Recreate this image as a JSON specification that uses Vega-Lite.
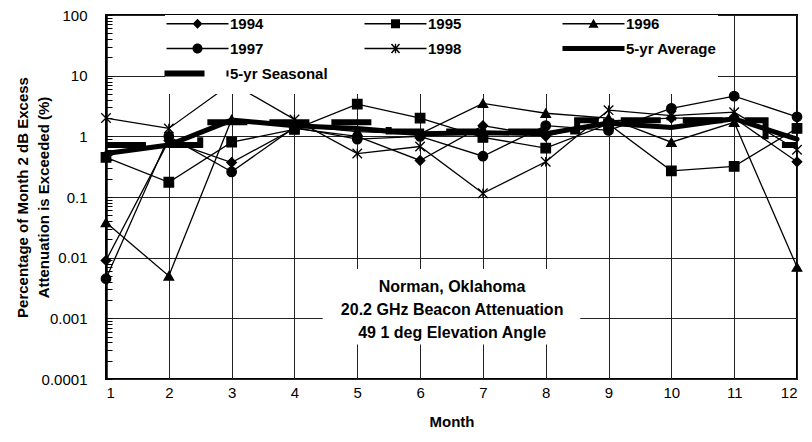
{
  "$schema": "https://vega.github.io/schema/vega-lite/v6.json",
  "width": 691,
  "height": 364,
  "autosize": "none",
  "padding": {"left": 106, "top": 15, "right": 15, "bottom": 63},
  "background": "white",
  "config": {
    "view": {"stroke": "black", "strokeWidth": 2},
    "font": "Liberation Sans",
    "axis": {"labelFont": "Liberation Sans", "titleFont": "Liberation Sans", "labelColor": "black", "titleColor": "black"}
  },
  "resolve": {"scale": {"shape": "independent"}, "legend": {"shape": "independent"}},
  "datasets": {
    "notes": [{"note": "Norman, Oklahoma\n20.2 GHz Beacon Attenuation\n49 1 deg Elevation Angle"}]
  },
  "data": {"values": [
    {"series": "1994", "month": 1, "value": 0.009},
    {"series": "1994", "month": 2, "value": 0.85},
    {"series": "1994", "month": 3, "value": 0.37},
    {"series": "1994", "month": 4, "value": 1.35},
    {"series": "1994", "month": 5, "value": 1.0},
    {"series": "1994", "month": 6, "value": 0.4},
    {"series": "1994", "month": 7, "value": 1.5},
    {"series": "1994", "month": 8, "value": 1.0},
    {"series": "1994", "month": 9, "value": 1.8},
    {"series": "1994", "month": 10, "value": 2.0},
    {"series": "1994", "month": 11, "value": 2.0},
    {"series": "1994", "month": 12, "value": 0.38},
    {"series": "1995", "month": 1, "value": 0.45},
    {"series": "1995", "month": 2, "value": 0.175},
    {"series": "1995", "month": 3, "value": 0.8},
    {"series": "1995", "month": 4, "value": 1.3},
    {"series": "1995", "month": 5, "value": 3.4},
    {"series": "1995", "month": 6, "value": 2.0},
    {"series": "1995", "month": 7, "value": 0.96},
    {"series": "1995", "month": 8, "value": 0.64},
    {"series": "1995", "month": 9, "value": 1.6},
    {"series": "1995", "month": 10, "value": 0.27},
    {"series": "1995", "month": 11, "value": 0.32},
    {"series": "1995", "month": 12, "value": 1.35},
    {"series": "1996", "month": 1, "value": 0.038},
    {"series": "1996", "month": 2, "value": 0.005},
    {"series": "1996", "month": 3, "value": 1.9},
    {"series": "1996", "month": 4, "value": 1.5},
    {"series": "1996", "month": 5, "value": 1.2},
    {"series": "1996", "month": 6, "value": 1.1},
    {"series": "1996", "month": 7, "value": 3.5},
    {"series": "1996", "month": 8, "value": 2.4},
    {"series": "1996", "month": 9, "value": 2.0},
    {"series": "1996", "month": 10, "value": 0.8},
    {"series": "1996", "month": 11, "value": 1.7},
    {"series": "1996", "month": 12, "value": 0.007},
    {"series": "1997", "month": 1, "value": 0.0045},
    {"series": "1997", "month": 2, "value": 1.0},
    {"series": "1997", "month": 3, "value": 0.26},
    {"series": "1997", "month": 4, "value": 1.4},
    {"series": "1997", "month": 5, "value": 0.9},
    {"series": "1997", "month": 6, "value": 1.0},
    {"series": "1997", "month": 7, "value": 0.47},
    {"series": "1997", "month": 8, "value": 1.5},
    {"series": "1997", "month": 9, "value": 1.25},
    {"series": "1997", "month": 10, "value": 2.9},
    {"series": "1997", "month": 11, "value": 4.6},
    {"series": "1997", "month": 12, "value": 2.1},
    {"series": "1998", "month": 1, "value": 2.0},
    {"series": "1998", "month": 2, "value": 1.35},
    {"series": "1998", "month": 3, "value": 7.5},
    {"series": "1998", "month": 4, "value": 1.9},
    {"series": "1998", "month": 5, "value": 0.52},
    {"series": "1998", "month": 6, "value": 0.68},
    {"series": "1998", "month": 7, "value": 0.115},
    {"series": "1998", "month": 8, "value": 0.38},
    {"series": "1998", "month": 9, "value": 2.7},
    {"series": "1998", "month": 10, "value": 2.2},
    {"series": "1998", "month": 11, "value": 2.5},
    {"series": "1998", "month": 12, "value": 0.6},
    {"series": "5-yr Average", "month": 1, "value": 0.52},
    {"series": "5-yr Average", "month": 2, "value": 0.72},
    {"series": "5-yr Average", "month": 3, "value": 1.85},
    {"series": "5-yr Average", "month": 4, "value": 1.5},
    {"series": "5-yr Average", "month": 5, "value": 1.35},
    {"series": "5-yr Average", "month": 6, "value": 1.1},
    {"series": "5-yr Average", "month": 7, "value": 1.15},
    {"series": "5-yr Average", "month": 8, "value": 1.1},
    {"series": "5-yr Average", "month": 9, "value": 1.65},
    {"series": "5-yr Average", "month": 10, "value": 1.4},
    {"series": "5-yr Average", "month": 11, "value": 1.95},
    {"series": "5-yr Average", "month": 12, "value": 0.9},
    {"series": "5-yr Seasonal", "month": 1, "value": 0.72},
    {"series": "5-yr Seasonal", "month": 2, "value": 0.72},
    {"series": "5-yr Seasonal", "month": 3, "value": 1.7},
    {"series": "5-yr Seasonal", "month": 4, "value": 1.7},
    {"series": "5-yr Seasonal", "month": 5, "value": 1.7},
    {"series": "5-yr Seasonal", "month": 6, "value": 1.2},
    {"series": "5-yr Seasonal", "month": 7, "value": 1.2},
    {"series": "5-yr Seasonal", "month": 8, "value": 1.2},
    {"series": "5-yr Seasonal", "month": 9, "value": 1.85},
    {"series": "5-yr Seasonal", "month": 10, "value": 1.85},
    {"series": "5-yr Seasonal", "month": 11, "value": 1.85},
    {"series": "5-yr Seasonal", "month": 12, "value": 0.72}
  ]},
  "layer": [
    {
      "transform": [{"filter": "indexof(['1994','1995','1996','1997','1998'], datum.series) >= 0"}],
      "mark": {"type": "line", "stroke": "black", "strokeWidth": 1.3},
      "encoding": {
        "x": {
          "field": "month", "type": "quantitative",
          "scale": {"domain": [1, 12], "nice": false, "zero": false},
          "axis": {
            "values": [1, 2, 3, 4, 5, 6, 7, 8, 9, 10, 11, 12],
            "format": "d",
            "grid": true, "gridColor": "#222", "gridWidth": 1,
            "ticks": false, "domain": false,
            "labelFontSize": 15, "labelPadding": 6,
            "title": "Month", "titleFontSize": 15, "titleFontWeight": "bold", "titlePadding": 14
          }
        },
        "y": {
          "field": "value", "type": "quantitative",
          "scale": {"type": "log", "domain": [0.0001, 100], "nice": false},
          "axis": {
            "values": [0.0001, 0.0002, 0.0003, 0.0004, 0.0005, 0.0006, 0.0007, 0.0008, 0.0009,
                       0.001, 0.002, 0.003, 0.004, 0.005, 0.006, 0.007, 0.008, 0.009,
                       0.01, 0.02, 0.03, 0.04, 0.05, 0.06, 0.07, 0.08, 0.09,
                       0.1, 0.2, 0.3, 0.4, 0.5, 0.6, 0.7, 0.8, 0.9,
                       1, 2, 3, 4, 5, 6, 7, 8, 9,
                       10, 20, 30, 40, 50, 60, 70, 80, 90, 100],
            "format": "~g",
            "labelExpr": "indexof(['0.0001','0.001','0.01','0.1','1','10','100'], datum.label) >= 0 ? datum.label : ''",
            "grid": true, "gridColor": "#222", "gridWidth": 1,
            "gridOpacity": {"condition": {"test": "indexof([0.0001,0.001,0.01,0.1,1,10,100], datum.value) >= 0", "value": 1}, "value": 0},
            "ticks": true, "tickSize": -6, "tickColor": "black", "tickWidth": 1,
            "domain": true, "domainColor": "black", "domainWidth": 2.5,
            "labelFontSize": 15, "labelPadding": 25,
            "title": ["Percentage of Month 2 dB Excess", "Attenuation is Exceeded (%)"],
            "titleFontSize": 15, "titleFontWeight": "bold",
            "titleX": -84, "titleY": 182, "titleAlign": "center", "titleBaseline": "middle", "titleLineHeight": 21
          }
        },
        "detail": {"field": "series"}
      }
    },
    {
      "data": {"name": "notes"},
      "mark": {"type": "rect", "fill": "white"},
      "encoding": {
        "x": {"datum": 4.45, "type": "quantitative"},
        "x2": {"datum": 8.55},
        "y": {"datum": 0.0065, "type": "quantitative"},
        "y2": {"datum": 0.00037}
      }
    },
    {
      "transform": [{"filter": "datum.series === '5-yr Average'"}],
      "mark": {"type": "line", "stroke": "black", "strokeWidth": 5, "strokeCap": "round"},
      "encoding": {
        "x": {"field": "month", "type": "quantitative"},
        "y": {"field": "value", "type": "quantitative"}
      }
    },
    {
      "transform": [{"filter": "datum.series === '5-yr Seasonal'"}],
      "mark": {"type": "line", "stroke": "black", "strokeWidth": 6, "interpolate": "step", "strokeDash": [40, 22]},
      "encoding": {
        "x": {"field": "month", "type": "quantitative"},
        "y": {"field": "value", "type": "quantitative"}
      }
    },
    {
      "transform": [{"filter": "indexof(['1994','1995','1996','1997','1998'], datum.series) >= 0"}],
      "mark": {"type": "point", "filled": true, "fill": "black", "stroke": "black", "strokeWidth": 1.3, "size": 90, "opacity": 1},
      "encoding": {
        "x": {"field": "month", "type": "quantitative"},
        "y": {"field": "value", "type": "quantitative"},
        "shape": {
          "field": "series", "type": "nominal",
          "scale": {
            "domain": ["1994", "1995", "1996", "1997", "1998"],
            "range": ["diamond", "square", "triangle-up", "circle", "M-1,-1L1,1M-1,1L1,-1M0,-1V1"]
          },
          "legend": null
        }
      }
    },
    {
      "mark": {"type": "point", "filled": true, "fill": "black", "size": 100, "opacity": 0},
      "encoding": {
        "x": {"field": "month", "type": "quantitative"},
        "y": {"field": "value", "type": "quantitative"},
        "shape": {
          "field": "series", "type": "nominal",
          "scale": {
            "domain": ["1994", "1995", "1996", "1997", "1998", "5-yr Average", "5-yr Seasonal"],
            "range": [
              "M-6.2,-0.13H6.2V0.13H-6.2ZM0,-1L1,0L0,1L-1,0Z",
              "M-6.2,-0.13H6.2V0.13H-6.2ZM-0.9,-0.9H0.9V0.9H-0.9Z",
              "M-6.2,-0.13H6.2V0.13H-6.2ZM0,-1L1,0.8H-1Z",
              "M-6.2,-0.13H6.2V0.13H-6.2ZM-1,0A1,1,0,1,1,1,0A1,1,0,1,1,-1,0Z",
              "M-6.2,-0.13H6.2V0.13H-6.2ZM-0.688,-1L0.912,0.8L0.688,1L-0.912,-0.8ZM0.688,-1L0.912,-0.8L-0.688,1L-0.912,0.8ZM-0.13,-0.95H0.13V0.95H-0.13Z",
              "M-6.2,-0.5H6.2V0.5H-6.2Z",
              "M-6.6,-0.6H1.4V0.6H-6.6ZM5.8,-0.6H6.2V0.6H5.8Z"
            ]
          },
          "legend": {
            "orient": "none", "legendX": 59, "legendY": 0, "direction": "horizontal",
            "columns": 3, "title": " ", "titleOrient": "bottom", "titleFontSize": 6, "titlePadding": 5,
            "fillColor": "white", "padding": 1,
            "gridAlign": "all", "columnPadding": 33, "rowPadding": 8,
            "labelFont": "Liberation Sans", "labelFontSize": 15, "labelFontWeight": "bold", "labelColor": "black", "labelLimit": 0,
            "symbolSize": 100, "symbolOffset": 24, "labelOffset": 25,
            "symbolOpacity": 1, "symbolFillColor": "black"
          }
        }
      }
    },
    {
      "data": {"name": "notes"},
      "mark": {
        "type": "text", "font": "Liberation Sans", "fontSize": 16, "fontWeight": "bold",
        "align": "center", "baseline": "middle", "lineHeight": 23, "color": "black", "lineBreak": "\n"
      },
      "encoding": {
        "text": {"field": "note"},
        "x": {"datum": 6.51, "type": "quantitative"},
        "y": {"datum": 0.0033, "type": "quantitative"}
      }
    }
  ]
}
